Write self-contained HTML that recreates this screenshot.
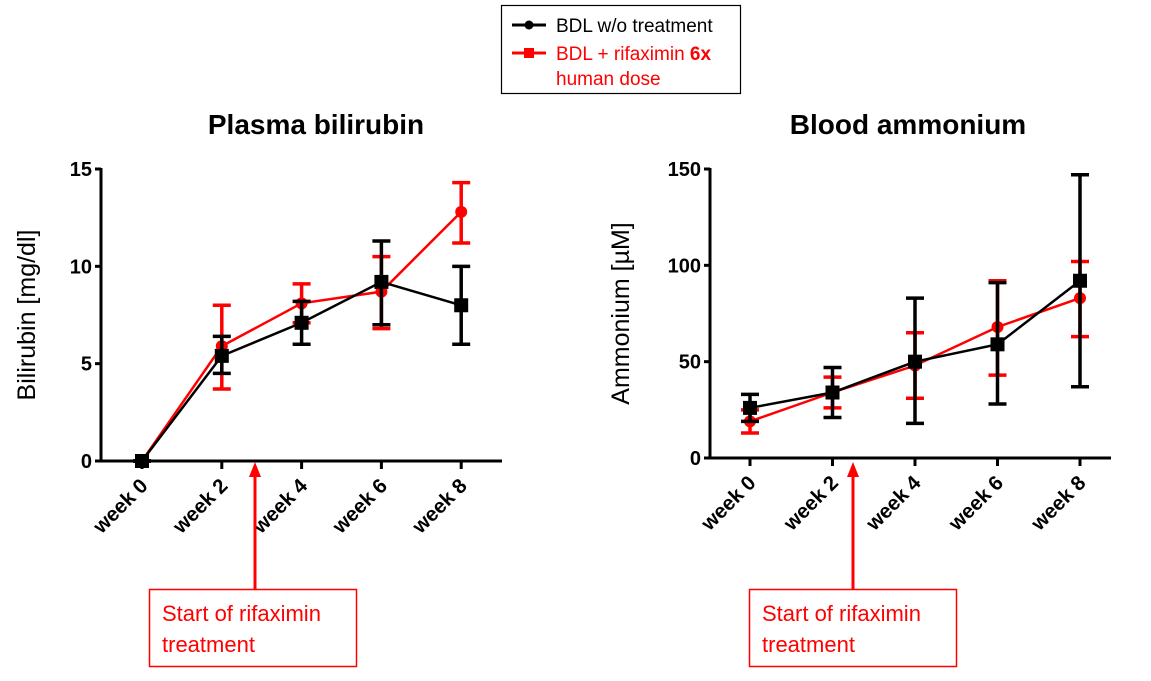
<!DOCTYPE html>
<html><head><meta charset="utf-8"><style>
body{margin:0;background:#fff;width:1151px;height:676px;overflow:hidden;font-family:"Liberation Sans",Arial,sans-serif}
</style></head><body>
<svg id="svg" width="1151" height="676" xmlns="http://www.w3.org/2000/svg">
<g>
<rect x="501.5" y="5.5" width="239" height="88" fill="#fff" stroke="#000" stroke-width="1.2"/>
<line x1="512" y1="25" x2="546" y2="25" stroke="#000" stroke-width="3"/><circle cx="529" cy="25" r="4.5" fill="#000"/>
<text x="556" y="32" font-size="19" fill="#000">BDL w/o treatment</text>
<line x1="512" y1="53" x2="546" y2="53" stroke="#f00" stroke-width="3"/><rect x="524" y="48" width="10" height="10" fill="#f00"/>
<text x="556" y="60" font-size="19" fill="#f00">BDL + rifaximin <tspan font-weight="bold">6x</tspan></text>
<text x="556" y="85" font-size="19" fill="#f00">human dose</text>
</g>
<g id="c1"></g>
<g id="c2"></g>
<g>
<line x1="255" y1="589" x2="255" y2="476" stroke="#f00" stroke-width="3"/>
<polygon points="255,462 249,477 261,477" fill="#f00"/>
<rect x="149.5" y="589.5" width="207" height="77" fill="#fff" stroke="#f00" stroke-width="1.5"/>
<text x="162" y="621" font-size="22" fill="#f00">Start of rifaximin</text>
<text x="162" y="652" font-size="22" fill="#f00">treatment</text>
</g>
<g>
<line x1="853" y1="589" x2="853" y2="476" stroke="#f00" stroke-width="3"/>
<polygon points="853,462 847,477 859,477" fill="#f00"/>
<rect x="749.5" y="589.5" width="207" height="77" fill="#fff" stroke="#f00" stroke-width="1.5"/>
<text x="762" y="621" font-size="22" fill="#f00">Start of rifaximin</text>
<text x="762" y="652" font-size="22" fill="#f00">treatment</text>
</g>
</svg>
<script>
const categories=["week 0","week 2","week 4","week 6","week 8"];
const biliCtrl=[0,5.4,7.1,9.2,8.0];
const biliCtrlHi=[0,6.4,8.2,11.3,10.0];
const biliCtrlLo=[0,4.5,6.0,7.0,6.0];
const biliRif=[0,5.9,8.1,8.7,12.8];
const biliRifHi=[0,8.0,9.1,10.5,14.3];
const biliRifLo=[0,3.7,7.1,6.8,11.2];
const biliTicks=[0,5,10,15];
const ammCtrl=[26,34,50,59,92];
const ammCtrlHi=[33,47,83,91,147];
const ammCtrlLo=[19,21,18,28,37];
const ammRif=[19,34,48,68,83];
const ammRifHi=[25,42,65,92,102];
const ammRifLo=[13,26,31,43,63];
const ammTicks=[0,50,100,150];
const NS="http://www.w3.org/2000/svg";
function mk(p,t,a){const e=document.createElementNS(NS,t);for(const k in a)e.setAttribute(k,a[k]);p.appendChild(e);return e;}
function chart(g,o){
  const sx=i=>o.x0+i*o.dx, sy=v=>o.y0-(v/o.max)*(o.y0-o.yTop);
  mk(g,'line',{x1:o.ax,y1:o.yTop-1,x2:o.ax,y2:o.y0,stroke:'#000','stroke-width':3});
  mk(g,'line',{x1:o.ax,y1:o.y0,x2:o.xEnd,y2:o.y0,stroke:'#000','stroke-width':3});
  o.ticks.forEach(t=>{
    mk(g,'line',{x1:o.ax-6,y1:sy(t),x2:o.ax,y2:sy(t),stroke:'#000','stroke-width':3});
    const tx=mk(g,'text',{x:o.ax-9,y:sy(t)+7,'text-anchor':'end','font-size':20,'font-weight':'bold'});tx.textContent=t;
    
    
  });
  categories.forEach((c,i)=>{
    mk(g,'line',{x1:sx(i),y1:o.y0,x2:sx(i),y2:o.y0+8,stroke:'#000','stroke-width':3});
    const ax=sx(i)+7, ay=o.y0+26;
    const tx=mk(g,'text',{x:ax,y:ay,'text-anchor':'end','font-size':20.5,'font-weight':'bold',transform:`rotate(-45 ${ax} ${ay})`});tx.textContent=c;
    
    
  });
  const yt=mk(g,'text',{x:0,y:0,'text-anchor':'middle','font-size':25,transform:`translate(${o.ylx},${(o.y0+o.yTop)/2}) rotate(-90)`});yt.textContent=o.ylabel;
  
  
  const tt=mk(g,'text',{x:o.tx,y:134,'text-anchor':'middle','font-size':28,'font-weight':'bold'});tt.textContent=o.title;
  
  
  o.series.forEach(s=>{
    s.hi.forEach((h,i)=>{
      const x=sx(i);
      mk(g,'line',{x1:x,y1:sy(h),x2:x,y2:sy(s.lo[i]),stroke:s.c,'stroke-width':3.5});
      mk(g,'line',{x1:x-9,y1:sy(h),x2:x+9,y2:sy(h),stroke:s.c,'stroke-width':3.5});
      mk(g,'line',{x1:x-9,y1:sy(s.lo[i]),x2:x+9,y2:sy(s.lo[i]),stroke:s.c,'stroke-width':3.5});
    });
    const pl=mk(g,'polyline',{points:s.v.map((v,i)=>sx(i)+','+sy(v)).join(' '),fill:'none',stroke:s.c,'stroke-width':2.5});
    
    
    s.v.forEach((v,i)=>{
      let m;
      if(s.sq) m=mk(g,'rect',{x:sx(i)-7,y:sy(v)-7,width:14,height:14,fill:s.c});
      else m=mk(g,'circle',{cx:sx(i),cy:sy(v),r:6,fill:s.c});
      
      
    });
  });
}
chart(document.getElementById('c1'),{ax:101,y0:461,yTop:169,max:15,x0:142,dx:79.8,xEnd:502,ticks:biliTicks,ylabel:'Bilirubin [mg/dl]',ylx:35,title:'Plasma bilirubin',tx:316,
 series:[{v:biliRif,hi:biliRifHi,lo:biliRifLo,c:'#f00',sq:false,name:'rifaximin'},{v:biliCtrl,hi:biliCtrlHi,lo:biliCtrlLo,c:'#000',sq:true,name:'control'}]});
chart(document.getElementById('c2'),{ax:710,y0:458,yTop:169,max:150,x0:750,dx:82.5,xEnd:1111,ticks:ammTicks,ylabel:'Ammonium [µM]',ylx:629,title:'Blood ammonium',tx:908,
 series:[{v:ammRif,hi:ammRifHi,lo:ammRifLo,c:'#f00',sq:false,name:'rifaximin'},{v:ammCtrl,hi:ammCtrlHi,lo:ammCtrlLo,c:'#000',sq:true,name:'control'}]});
</script>
</body></html>
